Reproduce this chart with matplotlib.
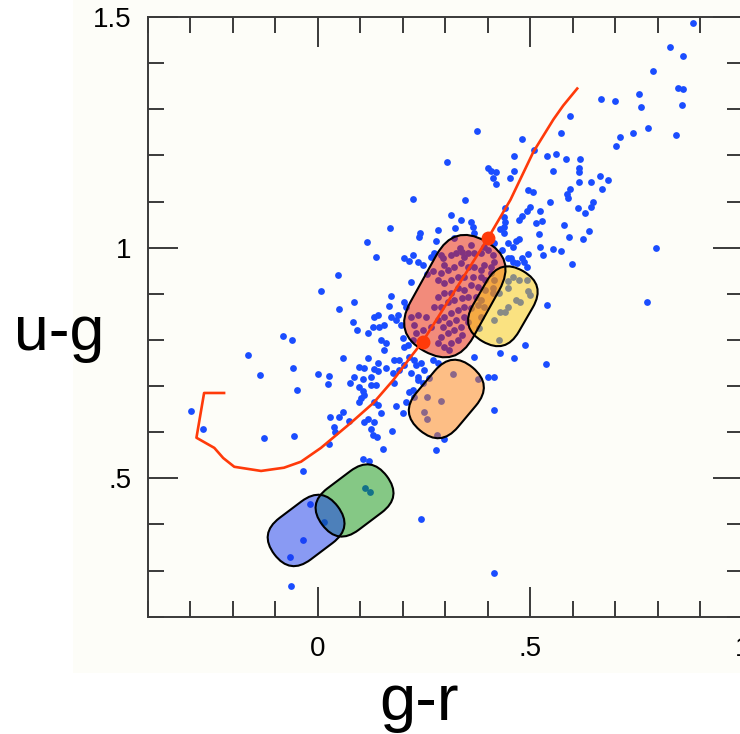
import numpy as np
import matplotlib
matplotlib.use("Agg")
import matplotlib.pyplot as plt
from matplotlib.patches import FancyBboxPatch, Rectangle
from matplotlib.transforms import Affine2D, ScaledTranslation

plt.rcParams['font.family'] = ['Liberation Sans', 'DejaVu Sans']

# (g-r, u-g) of the stars
stars = [
    (0.883, 1.488), (0.829, 1.436), (0.859, 1.416), (0.789, 1.382), (0.847, 1.347),
    (0.859, 1.345), (0.857, 1.310), (0.667, 1.323), (0.699, 1.319), (0.756, 1.334),
    (0.760, 1.306), (0.594, 1.286), (0.573, 1.249), (0.777, 1.260), (0.843, 1.245),
    (0.742, 1.249), (0.711, 1.239), (0.702, 1.221), (0.373, 1.254), (0.479, 1.236),
    (0.509, 1.212), (0.462, 1.199), (0.540, 1.199), (0.561, 1.204), (0.584, 1.193),
    (0.617, 1.193), (0.303, 1.186), (0.401, 1.173), (0.408, 1.167), (0.420, 1.163),
    (0.411, 1.150), (0.418, 1.139), (0.462, 1.167), (0.451, 1.152), (0.554, 1.167),
    (0.615, 1.173), (0.615, 1.163), (0.615, 1.143), (0.643, 1.143), (0.664, 1.156),
    (0.683, 1.147), (0.669, 1.128), (0.495, 1.126), (0.505, 1.121), (0.594, 1.128),
    (0.587, 1.117), (0.589, 1.108), (0.545, 1.100), (0.613, 1.087), (0.629, 1.076),
    (0.643, 1.089), (0.648, 1.100), (0.223, 1.106), (0.347, 1.104), (0.498, 1.089),
    (0.493, 1.080), (0.479, 1.069), (0.523, 1.080), (0.314, 1.071), (0.336, 1.061),
    (0.361, 1.056), (0.364, 1.045), (0.441, 1.085), (0.437, 1.067), (0.439, 1.056),
    (0.437, 1.045), (0.429, 1.041), (0.437, 1.032), (0.474, 1.061), (0.514, 1.054),
    (0.526, 1.058), (0.580, 1.050), (0.169, 1.043), (0.239, 1.032), (0.237, 1.024),
    (0.282, 1.039), (0.322, 1.043), (0.277, 1.015), (0.368, 1.032), (0.519, 1.030),
    (0.591, 1.024), (0.638, 1.037), (0.624, 1.019), (0.472, 1.019), (0.467, 1.015),
    (0.448, 1.011), (0.523, 1.002), (0.554, 0.998), (0.573, 0.993), (0.530, 0.985),
    (0.495, 0.987), (0.598, 0.965), (0.796, 1.000), (0.775, 0.883), (0.540, 0.876),
    (0.486, 0.790), (0.462, 0.761), (0.537, 0.748), (0.429, 0.772), (0.368, 0.763),
    (0.115, 1.013), (0.136, 0.980), (0.202, 0.978), (0.214, 0.972), (0.223, 0.985),
    (0.235, 0.970), (0.246, 0.963), (0.265, 0.980), (0.272, 0.989), (0.289, 0.985),
    (0.319, 1.022), (0.333, 1.000), (0.453, 0.978), (0.481, 0.978), (0.469, 0.967),
    (0.493, 0.959), (0.434, 0.996), (0.460, 1.002), (0.413, 1.011), (0.484, 0.970),
    (0.458, 0.970), (0.448, 0.978),
    (0.256, 0.944), (0.270, 0.950), (0.218, 0.926), (0.202, 0.883), (0.207, 0.872),
    (0.171, 0.896), (0.167, 0.874), (0.141, 0.855), (0.131, 0.850), (0.155, 0.833),
    (0.143, 0.829), (0.171, 0.850), (0.183, 0.844), (0.195, 0.833), (0.148, 0.800),
    (0.160, 0.794), (0.155, 0.779), (0.202, 0.785), (0.178, 0.757), (0.141, 0.750),
    (0.160, 0.740), (0.225, 0.757), (0.242, 0.750), (0.270, 0.757), (0.282, 0.750),
    (0.188, 0.855), (0.129, 0.829), (0.117, 0.816), (0.200, 0.805), (0.211, 0.790),
    (0.059, 0.761), (0.117, 0.761), (0.190, 0.757), (0.096, 0.742), (0.108, 0.740),
    (0.131, 0.738), (0.202, 0.746), (0.214, 0.763), (0.230, 0.746), (0.218, 0.729),
    (0.249, 0.735), (0.261, 0.718), (0.047, 0.941), (0.007, 0.905), (0.049, 0.868),
    (0.085, 0.883), (0.082, 0.839), (0.092, 0.822), (-0.082, 0.809), (-0.061, 0.800),
    (-0.164, 0.768), (-0.059, 0.740), (0.000, 0.727), (0.026, 0.722), (0.023, 0.705),
    (0.085, 0.720), (0.106, 0.716), (0.124, 0.720), (0.141, 0.733), (0.176, 0.729),
    (0.190, 0.735), (0.178, 0.707), (0.075, 0.707), (0.096, 0.698), (0.106, 0.690),
    (0.108, 0.681), (0.101, 0.675), (0.096, 0.666), (0.124, 0.703), (0.136, 0.703),
    (0.131, 0.666), (0.141, 0.659), (0.214, 0.688), (0.207, 0.666), (0.183, 0.657),
    (0.200, 0.642), (0.148, 0.642), (0.225, 0.677), (0.235, 0.720), (-0.049, 0.692),
    (0.059, 0.644), (0.049, 0.633), (0.028, 0.633), (0.073, 0.625), (0.108, 0.623),
    (0.117, 0.629), (0.131, 0.623), (0.038, 0.612), (0.040, 0.601), (0.124, 0.607),
    (0.129, 0.594), (0.138, 0.590), (0.174, 0.603), (-0.056, 0.592), (0.026, 0.575),
    (0.153, 0.564), (0.106, 0.542), (0.120, 0.538), (-0.035, 0.516), (0.110, 0.479),
    (0.122, 0.471), (0.399, 0.720), (0.415, 0.720), (0.413, 0.649), (0.296, 0.586),
    (0.277, 0.562), (0.317, 0.727), (0.376, 0.716), (0.256, 0.677), (0.289, 0.668),
    (0.249, 0.644), (0.256, 0.629), (0.279, 0.594), (0.235, 0.713), (0.246, 0.707),
    (0.223, 0.692), (0.242, 0.412), (0.415, 0.295), (-0.136, 0.725), (-0.298, 0.646),
    (-0.270, 0.607), (-0.127, 0.588), (-0.019, 0.445), (0.014, 0.406), (-0.035, 0.367),
    (-0.066, 0.330), (-0.063, 0.267),
    (0.293, 0.978), (0.296, 0.963), (0.312, 0.985), (0.324, 0.989), (0.340, 0.991),
    (0.343, 0.980), (0.352, 0.989), (0.359, 1.006), (0.366, 0.989), (0.383, 0.989),
    (0.390, 1.002), (0.401, 0.996), (0.411, 0.985), (0.413, 0.970), (0.406, 0.959),
    (0.390, 0.963), (0.383, 0.952), (0.366, 0.959), (0.352, 0.959), (0.336, 0.967),
    (0.319, 0.959), (0.305, 0.952), (0.289, 0.946), (0.282, 0.931), (0.296, 0.924),
    (0.312, 0.931), (0.329, 0.937), (0.343, 0.937), (0.364, 0.937), (0.383, 0.937),
    (0.394, 0.931), (0.406, 0.946), (0.413, 0.931), (0.411, 0.913), (0.394, 0.909),
    (0.376, 0.915), (0.359, 0.920), (0.343, 0.909), (0.329, 0.913), (0.312, 0.902),
    (0.296, 0.902), (0.282, 0.894), (0.272, 0.872), (0.289, 0.872), (0.305, 0.883),
    (0.319, 0.887), (0.340, 0.891), (0.354, 0.894), (0.371, 0.894), (0.383, 0.887),
    (0.376, 0.876), (0.359, 0.870), (0.343, 0.872), (0.329, 0.865), (0.312, 0.859),
    (0.296, 0.850), (0.282, 0.844), (0.293, 0.829), (0.308, 0.837), (0.324, 0.844),
    (0.343, 0.850), (0.352, 0.839), (0.336, 0.829), (0.319, 0.822), (0.305, 0.816),
    (0.289, 0.807), (0.340, 0.811), (0.329, 0.800), (0.312, 0.794), (0.296, 0.785),
    (0.282, 0.794), (0.308, 0.779), (0.218, 0.850), (0.235, 0.855), (0.254, 0.850),
    (0.225, 0.833), (0.246, 0.822), (0.230, 0.816), (0.223, 0.800), (0.265, 0.829),
    (0.458, 0.937), (0.472, 0.931), (0.448, 0.928), (0.493, 0.931), (0.495, 0.905),
    (0.446, 0.913), (0.465, 0.887), (0.476, 0.883), (0.425, 0.902), (0.411, 0.902),
    (0.390, 0.872), (0.448, 0.872), (0.441, 0.861), (0.429, 0.861), (0.413, 0.844),
    (0.383, 0.850), (0.378, 0.826), (0.425, 0.800), (0.500, 0.898),
]
gr, ug = np.array(stars).T

# model track
track_gr = [-0.221, -0.268, -0.286, -0.244, -0.223, -0.197, -0.134, -0.080, -0.040,
            0.007, 0.077, 0.131, 0.178, 0.218, 0.246, 0.401, 0.453, 0.507, 0.554,
            0.577, 0.610]
track_ug = [0.685, 0.685, 0.588, 0.566, 0.544, 0.525, 0.516, 0.523, 0.536,
            0.566, 0.620, 0.664, 0.714, 0.763, 0.796, 1.022, 1.104, 1.208, 1.278,
            1.308, 1.345]
mark_gr = [0.246, 0.401]
mark_ug = [0.796, 1.022]

# selection regions: centre (g-r, u-g), half length / radius in points, angle
box_gr = [0.322, 0.435, 0.302, 0.086, -0.028]
box_ug = [0.895, 0.873, 0.672, 0.452, 0.387]
box_half = [19.4, 10.1, 10.1, 10.4, 9.9]
box_rad = [25.9, 19.1, 19.4, 18.7, 18.7]
box_ang = [61, 60, 50, 37, 37]
box_col = ['#e91b00', '#f9c90c', '#fd8114', '#0f9514', '#1739f0']

fig = plt.figure(figsize=(7.4, 7.34), dpi=100, facecolor='white')
bg = Rectangle((73 / 740, 1 - 673 / 734), 1, 1, transform=fig.transFigure,
               facecolor='#fdfdf8', edgecolor='none', zorder=-5)
fig.add_artist(bg)
ax = fig.add_axes([0.2, 0.1598, 0.804, 0.817])
ax.set_facecolor('#fdfdf8')

ax.scatter(gr, ug, s=24, color='#1a4dff', linewidths=0, zorder=2)

for i in range(len(box_gr)):
    tr = (Affine2D().rotate_deg(box_ang[i]).scale(fig.dpi / 72)
          + ScaledTranslation(box_gr[i], box_ug[i], ax.transData))
    L, r = box_half[i], box_rad[i]
    p = FancyBboxPatch((-L - r, -r), 2 * (L + r), 2 * r,
                       boxstyle=f"round,pad=0,rounding_size={r}",
                       facecolor=box_col[i], alpha=0.5, edgecolor='none',
                       transform=tr, zorder=3)
    ax.add_patch(p)
    e = FancyBboxPatch((-L - r, -r), 2 * (L + r), 2 * r,
                       boxstyle=f"round,pad=0,rounding_size={r}",
                       facecolor='none', edgecolor='black', linewidth=1.5,
                       transform=tr, zorder=3.5)
    ax.add_patch(e)

ax.plot(track_gr, track_ug, color='#ff3a0a', lw=1.9, zorder=4)
ax.plot(mark_gr, mark_ug, 'o', color='#ff3a0a', ms=9, zorder=5, linestyle='none')

ax.set_xlim(-0.4, 1.0)
ax.set_ylim(0.2, 1.5)
ax.set_xticks([0, 0.5, 1])
ax.set_xticklabels(['0', '.5', '1'])
ax.set_yticks([0.5, 1, 1.5])
ax.set_yticklabels(['.5', '1', '1.5'])
ax.set_xticks(np.arange(-0.4, 1.01, 0.1), minor=True)
ax.set_yticks(np.arange(0.2, 1.51, 0.1), minor=True)
ax.tick_params(which='both', direction='in', top=True, right=True,
               color='#3a3a3a', width=1.4, labelsize=20)
ax.tick_params(which='major', length=21.5)
ax.tick_params(which='minor', length=11.5)
ax.tick_params(axis='y', pad=12)
ax.tick_params(axis='x', pad=14)
for s in ax.spines.values():
    s.set_color('#3a3a3a')
    s.set_linewidth(1.4)

fig.text(59 / 740, 1 - 350 / 734, 'u-g', fontsize=45, ha='center', va='baseline')
fig.text(419 / 740, 1 - 720 / 734, 'g-r', fontsize=47, ha='center', va='baseline')

fig.savefig('out.png', dpi=100, facecolor=fig.get_facecolor())
